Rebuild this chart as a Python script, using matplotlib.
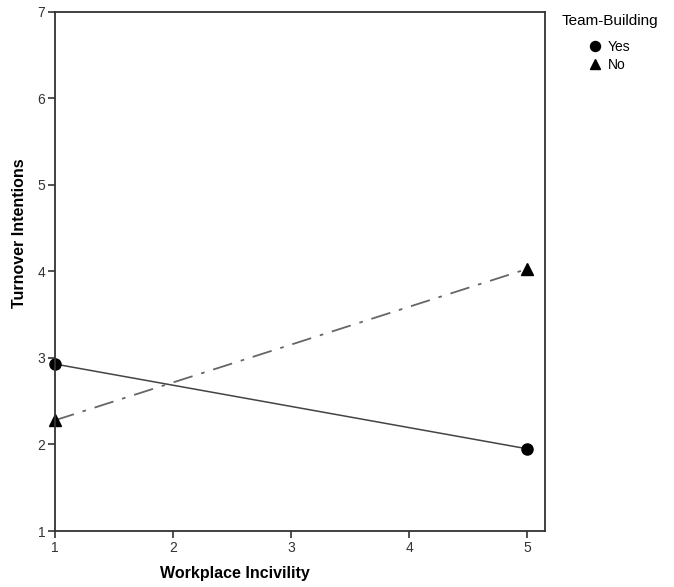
import matplotlib.pyplot as plt

plt.rcParams['font.family'] = ['Liberation Sans Narrow', 'Liberation Sans', 'DejaVu Sans']

# data
incivility = [1, 5]
yes_vals = [2.93, 1.95]
no_vals = [2.28, 4.03]
x_ticks = [1, 2, 3, 4, 5]
y_ticks = [1, 2, 3, 4, 5, 6, 7]

fig = plt.figure(figsize=(6.74, 5.87), dpi=100)
ax = fig.add_axes([0.0816, 0.0954, 0.727, 0.8842])

ax.plot(incivility, yes_vals, '-', color='#444444', lw=1.1,
        marker='o', markersize=8, mfc='black', mec='black', label='Yes', clip_on=False)
ax.plot(incivility, no_vals, color='#666666', lw=1.3, dashes=[11, 5, 2, 5],
        marker='^', markersize=8, mfc='black', mec='black', label='No', clip_on=False)

ax.set_xlim(1, 5.15)
ax.set_ylim(1, 7)
ax.set_xticks(x_ticks)
ax.set_yticks(y_ticks)
ax.tick_params(direction='out', length=5, width=1.2, labelsize=10, colors='#333333', pad=2)
for s in ax.spines.values():
    s.set_linewidth(1.3)
    s.set_color('#333333')

ax.set_xlabel('Workplace Incivility', fontsize=11.5, fontweight='bold')
ax.set_ylabel('Turnover Intentions', fontsize=11.5, fontweight='bold')
ax.xaxis.set_label_coords(0.367, -0.068)
ax.yaxis.set_label_coords(-0.058, 0.574)

fig.text(0.834, 0.976, 'Team-Building', fontsize=11, va='top', ha='left')
leg = ax.legend(loc='upper left', bbox_to_anchor=(1.065, 0.97),
                frameon=False, fontsize=10, handlelength=0.8,
                handletextpad=0.5, labelspacing=0.25, markerscale=0.9)
for h in leg.legend_handles:
    h.set_linestyle('none')

fig.savefig('out.png', dpi=100)
